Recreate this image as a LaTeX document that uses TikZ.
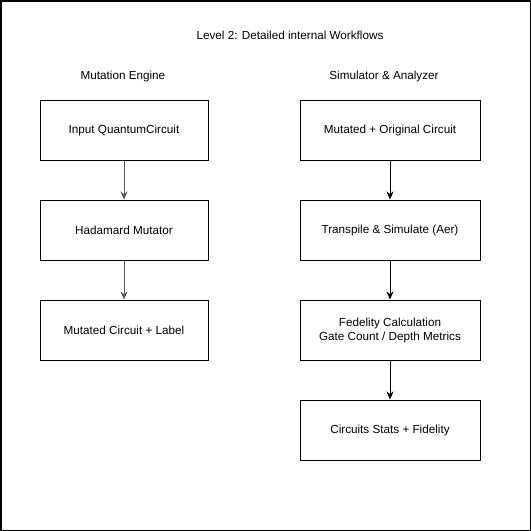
\documentclass[tikz,border=0pt]{standalone}
\usepackage{fontspec}
\setmainfont{Liberation Sans}
\usetikzlibrary{arrows.meta}
\tikzset{
    stepbox/.style={draw, line width=1pt, minimum height=60pt, align=center,
        font=\fontsize{11.7}{14}\selectfont, inner sep=0pt},
    leftbox/.style={stepbox, minimum width=168pt},
    rightbox/.style={stepbox, minimum width=180pt},
    heading/.style={font=\fontsize{11.7}{14}\selectfont},
    flow/.style={-{Stealth[length=8pt,width=7pt]}, line width=1pt}
}
\begin{document}
\begin{tikzpicture}[x=1pt, y=-1pt]
                \useasboundingbox (0,0) rectangle (531,531);
                \draw[line width=1.5pt] (0.75,0.75) rectangle (530.25,530.25);
                \node[heading] (title) at (290,35) {Level 2: Detailed internal Workflows};
                \node[heading] (mut) at (123,76) {Mutation Engine};
                \node[heading] (sim) at (384,76) {Simulator \& Analyzer};
                % mutation engine
                \node[leftbox] (input) at (124,130) {Input QuantumCircuit};
                \node[leftbox] (hadamard) at (124,230) {Hadamard Mutator};
                \node[leftbox] (mutated) at (124,330) {Mutated Circuit + Label};
                \draw[flow, black!65] (input) -- (hadamard);
                \draw[flow, black!65] (hadamard) -- (mutated);
                % simulator and analyzer
                \node[rightbox] (orig) at (390,130) {Mutated + Original Circuit};
                \node[rightbox] (aer) at (390,230) {Transpile \& Simulate (Aer)};
                \node[rightbox] (fid) at (390,330) {Fedelity Calculation\\Gate Count / Depth Metrics};
                \node[rightbox] (stats) at (390,430) {Circuits Stats + Fidelity};
                \draw[flow] (orig) -- (aer);
                \draw[flow] (aer) -- (fid);
                \draw[flow] (fid) -- (stats);
            \end{tikzpicture}
\end{document}
